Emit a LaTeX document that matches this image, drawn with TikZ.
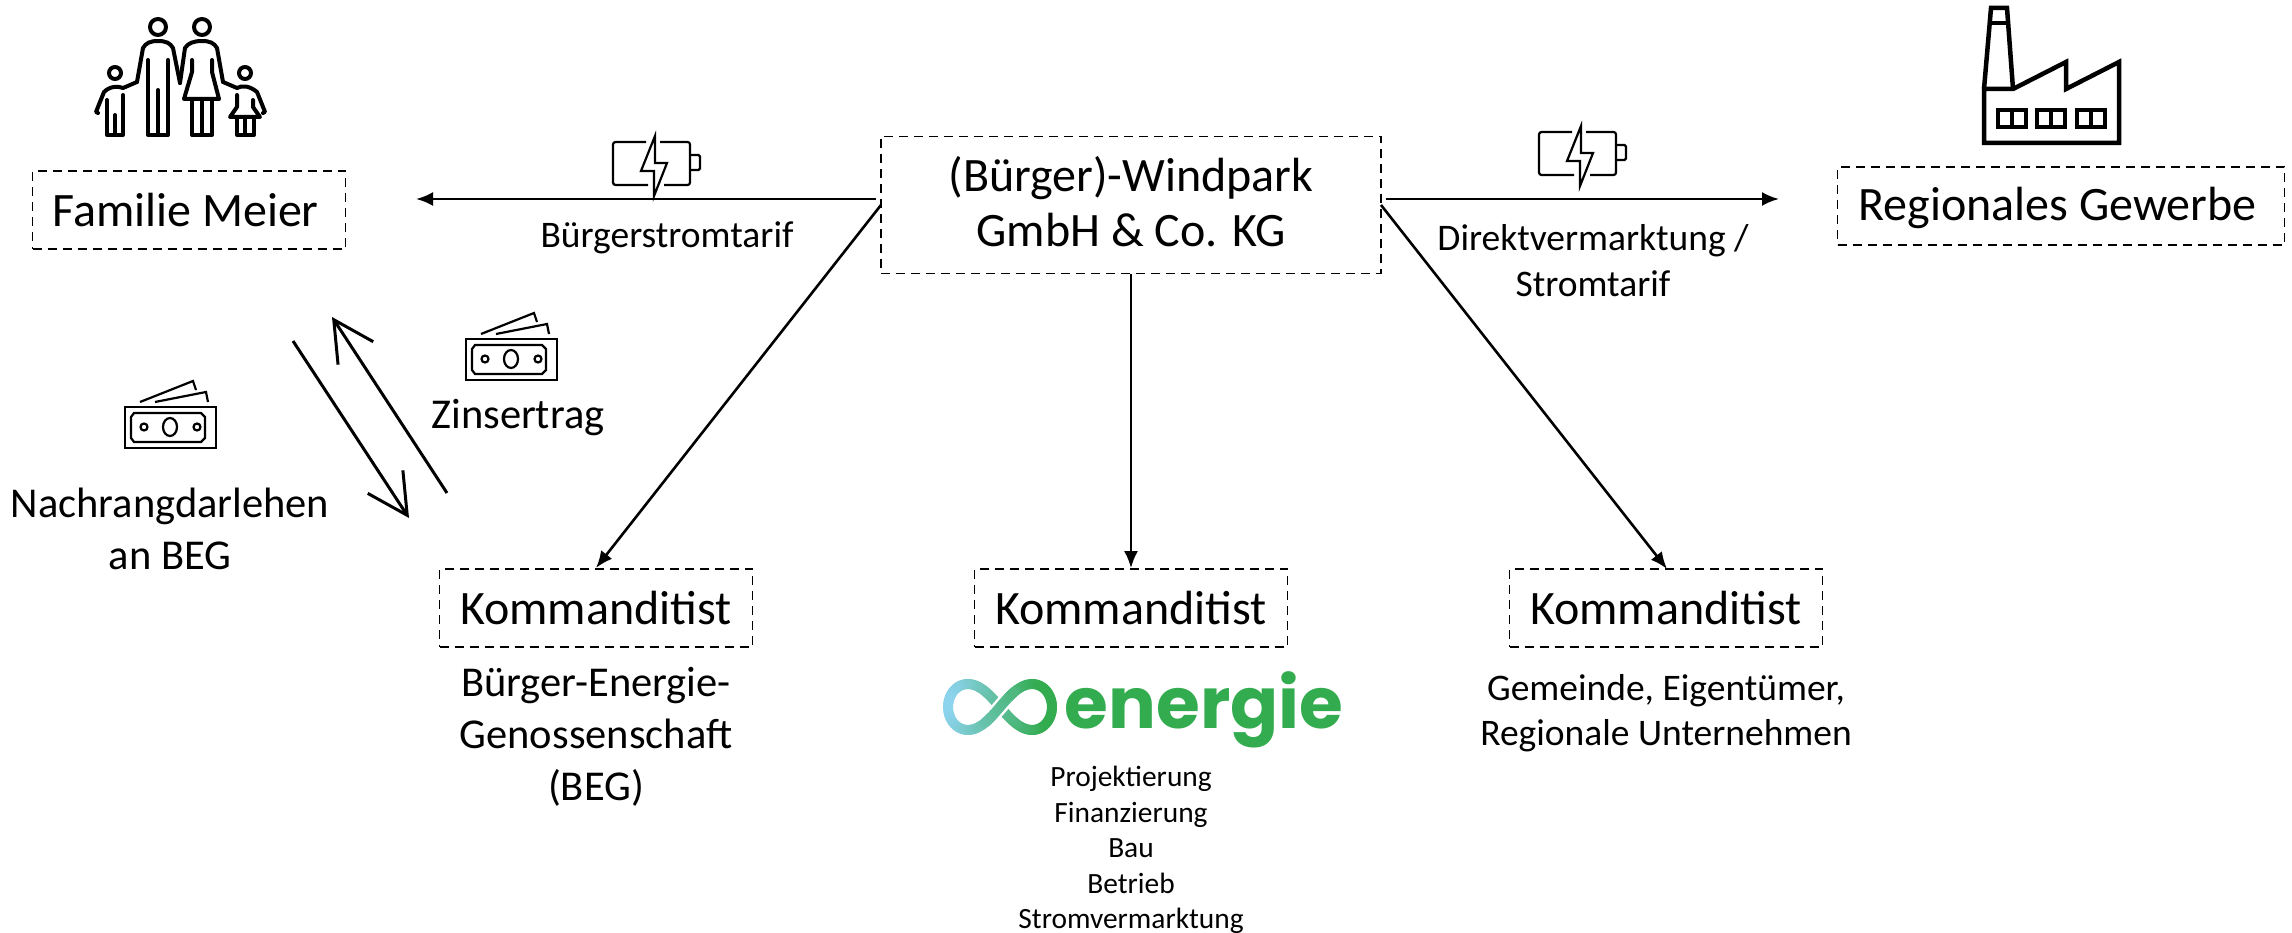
\documentclass[tikz,border=0pt]{standalone}
\usepackage{fontspec}
\setmainfont{Carlito}
\newfontfamily\popfont{Poppins}
\usetikzlibrary{arrows.meta}
\definecolor{egreen}{HTML}{33AC50}
\definecolor{eblue}{HTML}{8DD3EE}
\tikzset{
 px/.style={x=1pt,y=-1pt},
 lab/.style={draw,line width=1.7pt,dash pattern=on 9pt off 6pt,minimum height=78pt,inner sep=0pt,font=\fontsize{48}{55.5}\selectfont},
 conn/.style={line width=2.6pt,-{Latex[length=17pt,width=14pt]}},
 openarrow/.style={line width=3pt,-{Straight Barb[length=40pt,width=42pt]}},
 txt/.style={align=center,inner sep=0pt,font=\fontsize{37.5}{46}\selectfont},
 txtb/.style={align=center,inner sep=0pt,font=\fontsize{42.5}{52}\selectfont},
 icon/.style={line width=4pt,line join=miter}
}
\newcommand{\money}[2]{\begin{scope}[shift={(#1,#2)},line width=2.2pt]
 \draw (0,0) rectangle (91,41);
 \draw (9,6) -- (76,6) -- (80,10) -- (80,31) -- (76,35) -- (9,35) -- (6,31) -- (6,10) -- cycle;
 \draw (45,20) ellipse (7 and 9);
 \draw (19,20) circle (3.5) (72,20) circle (3.5);
 \draw (15,-5) -- (68,-26) -- (71,-17);
 \draw (30,-5) -- (81,-15) -- (83,-5);
\end{scope}}
\newcommand{\batt}[2]{\begin{scope}[shift={(#1,#2)},line width=2.2pt]
 \draw[rounded corners=2.5pt] (33,0) -- (0,0) -- (0,43) -- (35,43);
 \draw[rounded corners=2.5pt] (47,0) -- (77,0) -- (77,43) -- (51,43);
 \draw[rounded corners=1.5pt] (78,13) -- (87,13) -- (87,28) -- (78,28);
 \draw (42,-6) -- (28,29) -- (41,29) -- (41,54) -- (54,21) -- (42,21) -- cycle;
\end{scope}}
\newcommand{\infx}[1]{52*cos(#1)*(1-0.25*sin(#1)*sin(#1))}
\newcommand{\infy}[1]{23*sin(2*(#1))}
\begin{document}
\begin{tikzpicture}[px]
\useasboundingbox (0,0) rectangle (2292,933);
\node[lab,minimum width=500pt,minimum height=137pt,align=center,text depth=7pt] (wp) at (1131,205) {(Bürger)-Windpark\\GmbH \& Co. KG};
\node[lab,minimum width=313pt] (fam) at (189,210) {\hspace*{-7pt}Familie Meier};
\node[lab,minimum width=447pt,text height=34pt,text depth=5pt] (gew) at (2061,206) {\hspace*{-7pt}Regionales Gewerbe};
\node[lab,minimum width=313pt] (k1) at (596,608) {Kommanditist};
\node[lab,minimum width=313pt] (k2) at (1131,608) {Kommanditist};
\node[lab,minimum width=313pt] (k3) at (1666,608) {Kommanditist};
\coordinate (ml) at (416,199);
\coordinate (mr) at (1779,199);
\coordinate (wl) at (876,199);
\coordinate (wr) at (1386,199);
\coordinate (dl) at (881,205);
\coordinate (dr) at (1381,205);
\coordinate (el) at (596,568);
\coordinate (er) at (1667,569);
\draw[conn] (wl) -- (ml);
\draw[conn] (wr) -- (mr);
\draw[conn] (dl) -- (el);
\draw[conn] (wp.south -| k2) -- (k2.north);
\draw[conn] (dr) -- (er);
\coordinate (a1) at (293,341); \coordinate (a2) at (409,518);
\coordinate (b1) at (447,493); \coordinate (b2) at (332,317);
\draw[openarrow] (a1) -- (a2);
\draw[openarrow] (b1) -- (b2);
\node[txt] (t1) at (667,238) {Bürgerstromtarif};
\node[txt] (t2) at (1593,261) {Direktvermarktung /\\Stromtarif};
\node[txtb] (t3) at (518,418) {Zinsertrag};
\node[txtb] (t4) at (170,529) {Nachrangdarlehen\\an BEG};
\node[txtb] (t5) at (596,737) {Bürger-Energie-\\Genossenschaft\\(BEG)};
\node[txt,font=\fontsize{37.5}{45}\selectfont] (t6) at (1666,713) {Gemeinde, Eigentümer,\\Regionale Unternehmen};
\node[txt,font=\fontsize{29.4}{35.5}\selectfont] (t7) at (1131,850) {Projektierung\\Finanzierung\\Bau\\Betrieb\\Stromvermarktung};
\node[inner sep=0pt,anchor=base,text=egreen,font=\popfont\fontsize{71}{71}\bfseries\selectfont] (eg) at (1204,728) {energie};
% infinity logo
\begin{scope}[line width=10pt,line cap=round]
\foreach \t in {0,3,...,357}{
 \pgfmathsetmacro\xa{\infx{\t}}\pgfmathsetmacro\ya{\infy{\t}}
 \pgfmathsetmacro\xb{\infx{\t+3}}\pgfmathsetmacro\yb{\infy{\t+3}}
 \pgfmathsetmacro\p{max(0,min(100,(40-\xa)/92*100))}
 \draw[color=eblue!\p!egreen] (1000+\xa,707+\ya) -- (1000+\xb,707+\yb);
}
\draw[white,line width=15pt,line cap=butt] plot[domain=258:282,samples=8] ({1000+\infx{\x}},{707+\infy{\x}});
\foreach \t in {249,252,...,288}{
 \pgfmathsetmacro\xa{\infx{\t}}\pgfmathsetmacro\ya{\infy{\t}}
 \pgfmathsetmacro\xb{\infx{\t+3}}\pgfmathsetmacro\yb{\infy{\t+3}}
 \pgfmathsetmacro\p{max(0,min(100,(40-\xa)/92*100))}
 \draw[color=eblue!\p!egreen] (1000+\xa,707+\ya) -- (1000+\xb,707+\yb);
}
\end{scope}
\money{466}{339}\money{125}{407}
\batt{613}{142}\batt{1539}{132}
% factory
\begin{scope}[icon,line width=4.5pt]
\draw (1984,89) -- (2013,89) -- (2066,62) -- (2066,89) -- (2119,62) -- (2119,143) -- (1984,143) -- cycle;
\draw (1984,89) -- (1991,8) -- (2007,8) -- (2013,89);
\draw (1990,23) -- (2008,23);
\foreach \x in {1998,2037,2077} {\draw (\x,110) rectangle ++(28,17); \draw (\x+14,110) -- (\x+14,127);}
\end{scope}
% family
\begin{scope}[icon,line cap=round,line join=round]
\draw (158,27) circle (8) (202,27) circle (8) (115,73) circle (6) (245,73) circle (6);
% man
\draw (137,82) -- (143,48) .. controls (146,43) and (150,41) .. (158,41) .. controls (166,41) and (170,43) .. (173,48) -- (180,83);
\draw (148,60) -- (148,135) -- (168,135) -- (168,60) (158,90) -- (158,135);
% woman
\draw (180,83) -- (185,48) .. controls (188,43) and (194,41) .. (202,41) .. controls (210,41) and (214,43) .. (217,48) -- (223,82);
\draw (192,60) -- (192,72) -- (184,99) -- (219,99) -- (212,72) -- (212,60);
\draw (192,99) -- (192,135) -- (212,135) -- (212,99) (202,99) -- (202,135);
% boy
\draw (137,82) -- (123,88) .. controls (118,86) and (110,86) .. (104,92) -- (96,112) -- (98,113);
\draw (107,100) -- (107,135) -- (123,135) -- (123,95) (115,115) -- (115,135);
% girl
\draw (223,82) -- (237,88) .. controls (242,85) and (250,86) .. (257,92) -- (265,112) -- (263,113);
\draw (237,95) -- (237,107) -- (230,117) -- (260,117) -- (253,107) -- (253,100);
\draw (237,117) -- (237,135) -- (254,135) -- (254,117) (245,117) -- (245,135);
\end{scope}
\end{tikzpicture}
\end{document}
